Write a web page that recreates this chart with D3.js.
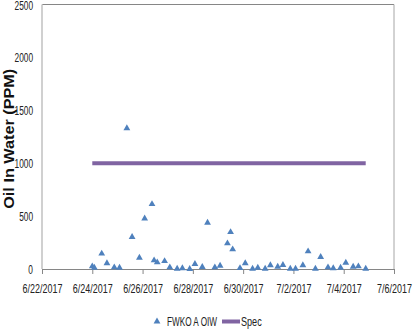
<!DOCTYPE html>
<html><head><meta charset="utf-8">
<script src="https://cdn.jsdelivr.net/npm/d3@7"></script>
<style>body{margin:0;background:#fff}svg{display:block}</style>
</head><body><svg id="c" width="413" height="329"></svg>
<script>
const oiwTimes = ["2017-06-24T00:00","2017-06-24T02:00","2017-06-24T09:00","2017-06-24T14:00","2017-06-24T21:00",
"2017-06-25T02:00","2017-06-25T09:00","2017-06-25T14:00","2017-06-25T21:00",
"2017-06-26T02:00","2017-06-26T09:00","2017-06-26T11:00","2017-06-26T14:00","2017-06-26T21:00",
"2017-06-27T02:00","2017-06-27T09:00","2017-06-27T14:00","2017-06-27T21:00",
"2017-06-28T02:00","2017-06-28T09:00","2017-06-28T14:00","2017-06-28T21:00",
"2017-06-29T02:00","2017-06-29T09:00","2017-06-29T12:00","2017-06-29T14:00","2017-06-29T21:00",
"2017-06-30T02:00","2017-06-30T09:00","2017-06-30T14:00","2017-06-30T21:00",
"2017-07-01T02:00","2017-07-01T09:00","2017-07-01T14:00","2017-07-01T21:00",
"2017-07-02T02:00","2017-07-02T09:00","2017-07-02T14:00","2017-07-02T21:00",
"2017-07-03T02:00","2017-07-03T09:00","2017-07-03T14:00","2017-07-03T21:00",
"2017-07-04T02:00","2017-07-04T09:00","2017-07-04T14:00","2017-07-04T21:00"];
const oiwValues = [25,12,145,54,16,
12,1330,302,107,
478,613,82,63,75,
16,3,7,0,
47,19,437,16,
31,242,349,186,8,
54,3,12,3,
35,22,38,3,
3,35,167,3,
113,16,7,12,
59,22,25,3];
const specTimes = ["2017-06-24T00:00","2017-07-04T21:00"];
const specValues = [1000,1000];
const xTickLabels = ["6/22/2017","6/24/2017","6/26/2017","6/28/2017","6/30/2017","7/2/2017","7/4/2017","7/6/2017"];
const yTicks = [0,500,1000,1500,2000,2500];
const seriesNames = ["FWKO A OIW","Spec"];

const parse = d3.timeParse("%Y-%m-%dT%H:%M");
const parseTick = d3.timeParse("%m/%d/%Y");
const svg = d3.select("#c");
const L=42,R=394,T=4.5,B=269;
const x = d3.scaleTime().domain([parseTick("6/22/2017"),parseTick("7/6/2017")]).range([L,R]);
const y = d3.scaleLinear().domain([0,2500]).range([B,T]);
const font = "'Liberation Sans',Arial,sans-serif";
// horizontally condense a text (emulates a narrow font) while keeping its anchor point
function narrowText(sel, k){
  sel.each(function(){
    const s = d3.select(this);
    const x0 = +(s.attr("x") || 0);
    s.attr("x", x0/k).attr("transform", `scale(${k},1)`);
  });
}

// frame
svg.append("line").attr("x1",L).attr("x2",R).attr("y1",T).attr("y2",T).attr("stroke","#868686").attr("stroke-width",1);
svg.append("line").attr("x1",R).attr("x2",R).attr("y1",T).attr("y2",B).attr("stroke","#a6a6a6").attr("stroke-width",1);
svg.append("line").attr("x1",L).attr("x2",L).attr("y1",T).attr("y2",B).attr("stroke","#d0d0d0").attr("stroke-width",2);

// x axis
const xTickDates = xTickLabels.map(parseTick);
const xAxis = d3.axisBottom(x).tickValues(xTickDates).tickSize(5).tickSizeOuter(0).tickPadding(10)
  .tickFormat((d,i)=>xTickLabels[i]);
const gx = svg.append("g").attr("transform",`translate(0,${B})`).call(xAxis);
gx.select(".domain").attr("stroke","#868686");
gx.selectAll(".tick line").attr("stroke","#868686");
gx.selectAll("text").attr("font-family",font).attr("font-size",13).attr("fill","#222").call(narrowText,0.69);

// y axis
const yAxis = d3.axisLeft(y).tickValues(yTicks).tickSize(0).tickPadding(9).tickFormat(d3.format("d"));
const gy = svg.append("g").attr("transform",`translate(${L},0)`).call(yAxis);
gy.select(".domain").remove();
gy.selectAll("text").attr("font-family",font).attr("font-size",13).attr("fill","#222").call(narrowText,0.64);
gy.selectAll(".tick").filter(d=>d===2500).select("text").attr("dy","0.42em");

// y title
svg.append("text").attr("transform",`translate(14,${(T+B)/2+2}) rotate(-90)`)
  .attr("text-anchor","middle").attr("font-family",font)
  .attr("font-weight","bold").attr("font-size",14).attr("fill","#111")
  .attr("textLength",140).attr("lengthAdjust","spacingAndGlyphs").text("Oil In Water (PPM)");

// spec line
const specData = specTimes.map((t,i)=>({t:parse(t),v:specValues[i]}));
svg.append("path").datum(specData)
  .attr("d",d3.line().x(d=>x(d.t)).y(d=>y(d.v)))
  .attr("stroke","#8064A2").attr("stroke-width",4).attr("fill","none");

// markers
const tri = d3.symbol().type(d3.symbolTriangle).size(20);
const pts = oiwTimes.map((t,i)=>({t:parse(t),v:oiwValues[i]}));
svg.append("g").selectAll("path").data(pts).join("path")
  .attr("d",tri).attr("transform",d=>`translate(${x(d.t)},${y(d.v)})`)
  .attr("fill","#4F81BD");

// legend
const lg = svg.append("g").attr("font-family",font).attr("font-size",13).attr("fill","#222");
lg.append("path").attr("d",tri).attr("transform","translate(157,321.5)").attr("fill","#4F81BD");
lg.append("text").attr("x",167).attr("y",326.3).text(seriesNames[0]).call(narrowText,0.63);
lg.append("line").attr("x1",222).attr("x2",240).attr("y1",321.5).attr("y2",321.5).attr("stroke","#8064A2").attr("stroke-width",4);
lg.append("text").attr("x",241).attr("y",326.3).text(seriesNames[1]).call(narrowText,0.7);
</script></body></html>
